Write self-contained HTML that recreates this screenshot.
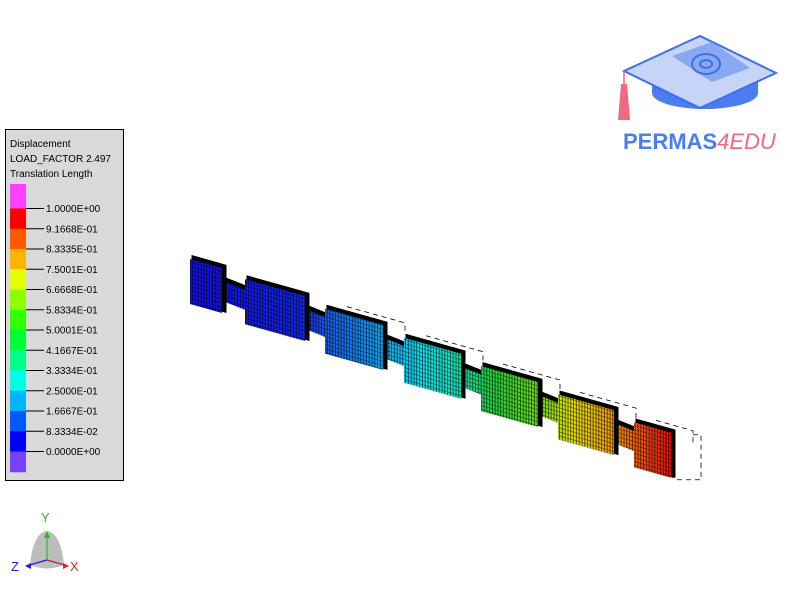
<!DOCTYPE html>
<html><head><meta charset="utf-8"><style>
html,body{margin:0;padding:0;background:#fff;}
body{width:800px;height:608px;overflow:hidden;position:relative;font-family:"Liberation Sans",sans-serif;}
svg{position:absolute;left:0;top:0;}
</style></head><body>
<svg id="scene" width="800" height="608" viewBox="0 0 800 608" xmlns="http://www.w3.org/2000/svg">
<defs>
<linearGradient id="dispGrad" gradientUnits="userSpaceOnUse" x1="190" y1="0" x2="670" y2="0">
<stop offset="0" stop-color="#1010e0"/>
<stop offset="0.23" stop-color="#1525e8"/>
<stop offset="0.29" stop-color="#1a60e8"/>
<stop offset="0.41" stop-color="#18a8f0"/>
<stop offset="0.48" stop-color="#18d8e8"/>
<stop offset="0.56" stop-color="#20e0b0"/>
<stop offset="0.625" stop-color="#20d040"/>
<stop offset="0.73" stop-color="#70d820"/>
<stop offset="0.79" stop-color="#e0e010"/>
<stop offset="0.875" stop-color="#f0a010"/>
<stop offset="0.94" stop-color="#f05010"/>
<stop offset="1" stop-color="#e81010"/>
</linearGradient>
<pattern id="mesh" patternUnits="userSpaceOnUse" width="2.8" height="4" patternTransform="skewY(16)">
<rect x="0" y="0" width="2.8" height="4" fill="none"/>
<rect x="2.0" y="0" width="0.8" height="4" fill="#000" opacity="0.7"/>
<rect x="0" y="3.3" width="2.8" height="0.7" fill="#000" opacity="0.55"/>
</pattern>
</defs>

<g>
<rect x="5.5" y="129.5" width="118" height="351" fill="#d9d9d9" stroke="#000" stroke-width="1"/>
<text x="10" y="147" font-size="10" fill="#000">Displacement</text>
<text x="10" y="162" font-size="10" fill="#000">LOAD_FACTOR 2.497</text>
<text x="10" y="177" font-size="10" fill="#000">Translation Length</text>
<g id="legendBar"></g>
</g>

<g id="beam"></g>
<g id="undeformed" fill="none" stroke="#000" stroke-width="0.8" stroke-dasharray="5,4"></g>

<g>
<path d="M30 565 Q33 533 47 531 Q61 533 64 565 Q47 572 30 565Z" fill="#bdbdbd"/>
<line x1="47" y1="560" x2="47" y2="533" stroke="#20c020" stroke-width="1.2"/>
<polygon points="44,538 50,538 47,531" fill="#20c020"/>
<line x1="47" y1="560" x2="68" y2="566" stroke="#c02020" stroke-width="1.2"/>
<polygon points="63,563 63,569 69,566" fill="#e02020"/>
<line x1="47" y1="560" x2="26" y2="566" stroke="#2020c0" stroke-width="1.2"/>
<polygon points="31,563 31,569 25,566" fill="#2020e0"/>
<text x="41" y="522" font-size="13" fill="#20c020">Y</text>
<text x="70" y="571" font-size="13" fill="#e02020">X</text>
<text x="11" y="571" font-size="13" fill="#2020e0">Z</text>
</g>

<g>
<ellipse cx="705" cy="93" rx="53" ry="16" fill="#4a7ef0"/>
<rect x="652" y="78" width="106" height="15" fill="#4a7ef0"/>
<polygon points="624,71 700,36 776,73 700,108" fill="#c6d4f8" stroke="#3c6ef0" stroke-width="2"/>
<polygon points="672,56 712,42 750,68 712,82" fill="#6f95ef" opacity="0.7"/>
<ellipse cx="706" cy="64" rx="14" ry="10" fill="none" stroke="#3c6ef0" stroke-width="2"/>
<ellipse cx="706" cy="64" rx="6" ry="4" fill="none" stroke="#3c6ef0" stroke-width="2"/>
<line x1="624" y1="71" x2="624" y2="84" stroke="#ee6a80" stroke-width="1.5"/>
<polygon points="621,84 627,84 630,120 618,120" fill="#ee6a80"/>
<text x="623" y="149" font-size="22" font-weight="bold" fill="#4a7ef0">PERMAS<tspan fill="#ee6a80" font-weight="normal" font-style="italic">4EDU</tspan></text>
</g>
</svg>
<script>
const legendColors = ["#ff40ff","#ff0000","#ff5a00","#ffb400","#e6ff00","#8cff00","#32ff00","#00ff32","#00ff8c","#00ffe6","#00b4ff","#005aff","#0000ff","#7840ff"];
const legendLabels = ["1.0000E+00","9.1668E-01","8.3335E-01","7.5001E-01","6.6668E-01","5.8334E-01","5.0001E-01","4.1667E-01","3.3334E-01","2.5000E-01","1.6667E-01","8.3334E-02","0.0000E+00"];
const plateStarts = [190, 245, 325, 404, 481, 558, 634];
const plateWidths = [32, 60, 58, 57, 57, 56, 37];
const NS="http://www.w3.org/2000/svg";
function mk(tag, attrs, parent){const e=document.createElementNS(NS,tag);for(const k in attrs)e.setAttribute(k,attrs[k]);parent.appendChild(e);return e;}

const lb=document.getElementById('legendBar');
const barTop=184, segH=20.25, firstH=24.5;
legendColors.forEach((c,i)=>{
  const y = i===0 ? barTop : barTop+firstH+(i-1)*segH;
  const h = i===0 ? firstH : segH;
  const r=mk('rect',{x:10,y:y,width:16,height:h+0.5,fill:c},lb);
  
  
});
legendLabels.forEach((t,i)=>{
  const y=barTop+firstH+i*segH;
  const l=mk('line',{x1:26,y1:y,x2:44,y2:y,stroke:'#000','stroke-width':1},lb);
  
  
  const tx=mk('text',{x:46,y:y+3.5,'font-size':10,fill:'#000'},lb);
  tx.textContent=t;
  
  
});

const beam=document.getElementById('beam');
const und=document.getElementById('undeformed');
const slope=0.368, edge=0.28, H=45, NH=20;
function topY(x){return 259+(x-190)*slope;}
function drawPoly(pts,parent,name){
  const back=mk('polygon',{points:pts.map(p=>(p[0]+3)+','+(p[1]-2)).join(' '),fill:'#000',stroke:'#000','stroke-width':3},parent);
  
  
  const f=mk('polygon',{points:pts.map(p=>p.join(',')).join(' '),fill:'url(#dispGrad)'},parent);
  
  
  const m=mk('polygon',{points:pts.map(p=>p.join(',')).join(' '),fill:'url(#mesh)'},parent);
  
  
}
for(let i=0;i<plateStarts.length-1;i++){
  const x0=plateStarts[i]+plateWidths[i]-2, x1=plateStarts[i+1]+2;
  const y0=topY(plateStarts[i])+plateWidths[i]*edge+12, y1=y0+(x1-x0)*edge+3;
  drawPoly([[x0,y0],[x1,y1],[x1,y1+NH],[x0,y0+NH]],beam,'neck-'+i);
}
plateStarts.forEach((x,i)=>{
  const w=plateWidths[i], y=topY(x);
  drawPoly([[x,y],[x+w,y+w*edge],[x+w,y+w*edge+H],[x,y+H]],beam,'plate-'+i);
  if(i>=2){
    const ox=x+22, oy=y-2;
    const p=mk('polyline',{points:[[ox,oy],[ox+w,oy+w*edge],[ox+w,oy+w*edge+12]].map(q=>q.join(',')).join(' ')},und);
    
    
  }
});
const last=plateStarts.length-1, lx=plateStarts[last]+plateWidths[last]+30, ly=topY(plateStarts[last])+plateWidths[last]*edge+2;
const ep=mk('polyline',{points:[[lx-8,ly],[lx,ly],[lx,ly+45],[lx-25,ly+45],[lx-35,ly+38]].map(q=>q.join(',')).join(' ')},und);


</script>
</body></html>
